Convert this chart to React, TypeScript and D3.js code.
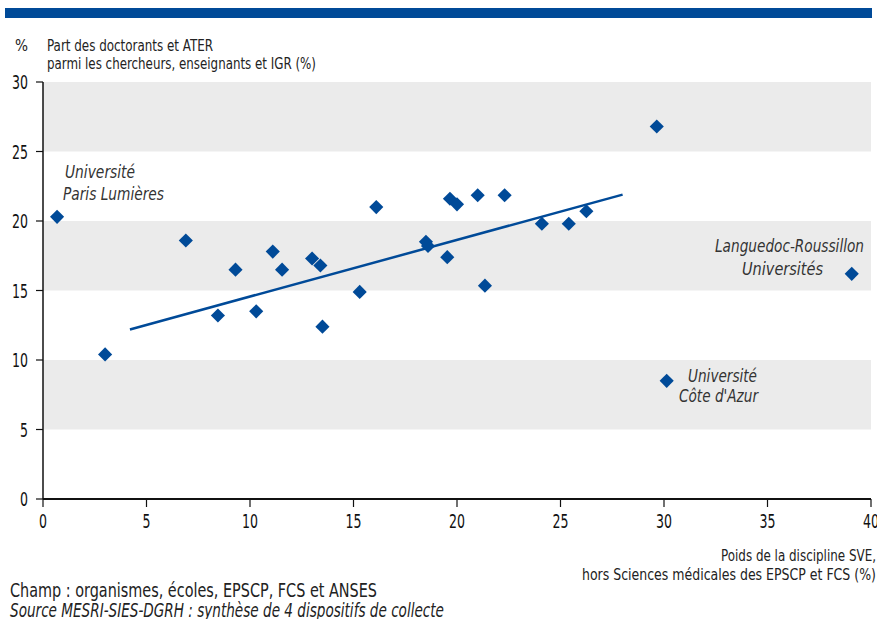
import * as React from 'react';
import * as d3 from 'd3';

const dimensions = { width: 877, height: 619 };
const margin = { top: 82, left: 43, right: 6, bottom: 120 };

// share of discipline SVE (%) / share of doctoral students & ATER (%)
const pointsX = [0.68, 3.0, 6.9, 8.45, 9.3, 10.3, 11.1, 11.55, 13.0, 13.4, 13.5, 15.3, 16.1, 18.5, 18.6, 19.53, 19.66, 20.0, 21.0, 21.35, 22.3, 24.1, 25.4, 26.25, 29.65, 30.13, 39.07];
const pointsY = [20.3, 10.4, 18.6, 13.2, 16.5, 13.5, 17.8, 16.5, 17.3, 16.8, 12.4, 14.9, 21.0, 18.5, 18.2, 17.4, 21.6, 21.2, 21.85, 15.35, 21.85, 19.8, 19.8, 20.7, 26.8, 8.5, 16.2];

const trendX = [4.2, 28.0];
const trendY = [12.2, 21.9];

const xTicks = [0, 5, 10, 15, 20, 25, 30, 35, 40];
const yTicks = [0, 5, 10, 15, 20, 25, 30];
const bands = [[25, 30], [15, 20], [5, 10]];

const annotations = [
  { text: 'Université', x: 65, y: 178, w: 70 },
  { text: 'Paris Lumières', x: 63, y: 200, w: 101 },
  { text: 'Languedoc-Roussillon', x: 715, y: 252, w: 149 },
  { text: 'Universités', x: 742, y: 275, w: 81 },
  { text: 'Université', x: 688, y: 382, w: 69 },
  { text: 'Côte d\'Azur', x: 679, y: 402, w: 79 },
];

const blue = '#004a98';
const font = '"DejaVu Sans Condensed", "DejaVu Sans", sans-serif';

const App: React.FC = () => {
  const x = d3.scaleLinear([0, 40], [margin.left, dimensions.width - margin.right]);
  const y = d3.scaleLinear([0, 30], [dimensions.height - margin.bottom, margin.top]);
  const diamond = d3.symbol(d3.symbolSquare, 100)();
  const line = d3.line<number>((_, i) => x(trendX[i]), (d) => y(d));

  return (
    <svg
      width={dimensions.width}
      height={dimensions.height}
      viewBox={`0 0 ${dimensions.width} ${dimensions.height}`}
      style={{ position: 'absolute', left: 0, top: 0, fontFamily: font }}
    >
      <rect x={5} y={8} width={867} height={10} fill={blue} />

      <text x={15} y={51} fontSize={16} fill="#222" textLength={13} lengthAdjust="spacingAndGlyphs">%</text>
      <text x={47} y={51} fontSize={16} fill="#222" textLength={166} lengthAdjust="spacingAndGlyphs">Part des doctorants et ATER</text>
      <text x={47} y={69} fontSize={16} fill="#222" textLength={269} lengthAdjust="spacingAndGlyphs">parmi les chercheurs, enseignants et IGR (%)</text>

      {bands.map(([a, b]) => (
        <rect key={a} x={x(0)} y={y(b)} width={x(40) - x(0)} height={y(a) - y(b)} fill="#ebebeb" />
      ))}

      <g>
        <line x1={x(0)} x2={x(0)} y1={y(30)} y2={y(0)} stroke="#111" strokeWidth={1.5} />
        {yTicks.map((t) => (
          <g key={t}>
            <line x1={x(0) - 7} x2={x(0)} y1={y(t)} y2={y(t)} stroke="#111" strokeWidth={1.2} />
            <text x={28} y={y(t) + 7} textAnchor="end" fontSize={19} fill="#111" textLength={String(t).length * 8} lengthAdjust="spacingAndGlyphs">{t}</text>
          </g>
        ))}
      </g>
      <g>
        <line x1={x(0)} x2={x(40)} y1={y(0)} y2={y(0)} stroke="#111" strokeWidth={2} />
        {xTicks.map((t) => (
          <g key={t}>
            <line x1={x(t)} x2={x(t)} y1={y(0)} y2={y(0) + 8} stroke="#111" strokeWidth={1.2} />
            <text x={x(t)} y={y(0) + 29} textAnchor="middle" fontSize={19} fill="#111" textLength={String(t).length * 8} lengthAdjust="spacingAndGlyphs">{t}</text>
          </g>
        ))}
      </g>

      <path d={line(trendY) ?? ''} fill="none" stroke={blue} strokeWidth={2.5} />

      {pointsX.map((px, i) => (
        <path key={i} d={diamond ?? ''} transform={`translate(${x(px)},${y(pointsY[i])}) rotate(45)`} fill={blue} />
      ))}

      {annotations.map((a, i) => (
        <text key={i} x={a.x} y={a.y} fontSize={18} fontStyle="italic" fill="#333" textLength={a.w} lengthAdjust="spacingAndGlyphs">
          {a.text}
        </text>
      ))}

      <text x={876} y={561} textAnchor="end" fontSize={15} fill="#222" textLength={155} lengthAdjust="spacingAndGlyphs">Poids de la discipline SVE,</text>
      <text x={876} y={580} textAnchor="end" fontSize={15} fill="#222" textLength={294} lengthAdjust="spacingAndGlyphs">hors Sciences médicales des EPSCP et FCS (%)</text>

      <text x={10} y={597} fontSize={19} fill="#222" textLength={367} lengthAdjust="spacingAndGlyphs">Champ : organismes, écoles, EPSCP, FCS et ANSES</text>
      <text x={10} y={617} fontSize={19} fontStyle="italic" fill="#222" textLength={434} lengthAdjust="spacingAndGlyphs">Source MESRI-SIES-DGRH : synthèse de 4 dispositifs de collecte</text>
    </svg>
  );
};

export default App;
